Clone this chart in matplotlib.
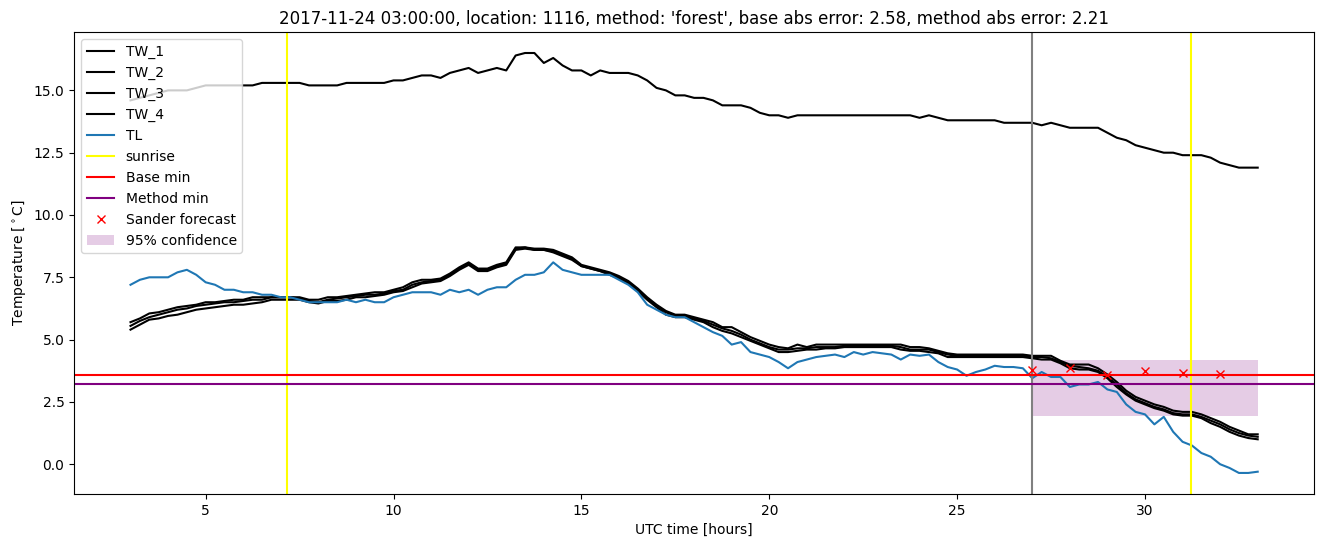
# Temperature forecast plot for one location

import numpy as np
import matplotlib
matplotlib.use('Agg')
import matplotlib.pyplot as plt

# ====> data (quarter hour steps, 3 to 33 UTC hours)
hours = np.arange(3, 33.25, 0.25)

tw_1 = [14.6, 14.7, 14.8, 14.9,
        15.0, 15.0, 15.0, 15.1,
        15.2, 15.2, 15.2, 15.2,
        15.2, 15.2, 15.3, 15.3,
        15.3, 15.3, 15.3, 15.2,
        15.2, 15.2, 15.2, 15.3,
        15.3, 15.3, 15.3, 15.3,
        15.4, 15.4, 15.5, 15.6,
        15.6, 15.5, 15.7, 15.8,
        15.9, 15.7, 15.8, 15.9,
        15.8, 16.4, 16.5, 16.5,
        16.1, 16.3, 16.0, 15.8,
        15.8, 15.6, 15.8, 15.7,
        15.7, 15.7, 15.6, 15.4,
        15.1, 15.0, 14.8, 14.8,
        14.7, 14.7, 14.6, 14.4,
        14.4, 14.4, 14.3, 14.1,
        14.0, 14.0, 13.9, 14.0,
        14.0, 14.0, 14.0, 14.0,
        14.0, 14.0, 14.0, 14.0,
        14.0, 14.0, 14.0, 14.0,
        13.9, 14.0, 13.9, 13.8,
        13.8, 13.8, 13.8, 13.8,
        13.8, 13.7, 13.7, 13.7,
        13.7, 13.6, 13.7, 13.6,
        13.5, 13.5, 13.5, 13.5,
        13.3, 13.1, 13.0, 12.8,
        12.7, 12.6, 12.5, 12.5,
        12.4, 12.4, 12.4, 12.3,
        12.1, 12.0, 11.9, 11.9,
        11.9]

tw_2 = [5.7, 5.85, 6.05, 6.1,
        6.2, 6.3, 6.35, 6.4,
        6.5, 6.5, 6.55, 6.6,
        6.6, 6.7, 6.7, 6.7,
        6.7, 6.7, 6.7, 6.6,
        6.6, 6.7, 6.7, 6.75,
        6.8, 6.85, 6.9, 6.9,
        7.0, 7.1, 7.3, 7.4,
        7.4, 7.45, 7.65, 7.9,
        8.1, 7.85, 7.85, 8.0,
        8.1, 8.7, 8.7, 8.65,
        8.65, 8.6, 8.45, 8.3,
        8.0, 7.9, 7.8, 7.7,
        7.55, 7.35, 7.05, 6.7,
        6.4, 6.15, 6.0, 6.0,
        5.9, 5.8, 5.7, 5.5,
        5.5, 5.3, 5.1, 4.95,
        4.8, 4.7, 4.65, 4.8,
        4.7, 4.8, 4.8, 4.8,
        4.8, 4.8, 4.8, 4.8,
        4.8, 4.8, 4.8, 4.7,
        4.7, 4.65, 4.55, 4.45,
        4.4, 4.4, 4.4, 4.4,
        4.4, 4.4, 4.4, 4.4,
        4.35, 4.35, 4.35, 4.15,
        4.0, 4.0, 4.0, 3.85,
        3.6, 3.3, 2.95, 2.7,
        2.55, 2.4, 2.3, 2.15,
        2.1, 2.1, 2.0, 1.85,
        1.7, 1.5, 1.35, 1.2,
        1.2]

tw_3 = [5.55, 5.75, 5.9, 6.0,
        6.1, 6.2, 6.25, 6.35,
        6.4, 6.45, 6.5, 6.5,
        6.55, 6.6, 6.6, 6.7,
        6.7, 6.7, 6.65, 6.55,
        6.5, 6.6, 6.65, 6.7,
        6.75, 6.8, 6.8, 6.85,
        6.95, 7.0, 7.2, 7.3,
        7.35, 7.4, 7.6, 7.85,
        8.05, 7.8, 7.8, 7.95,
        8.05, 8.65, 8.7, 8.6,
        8.6, 8.55, 8.4, 8.25,
        7.95, 7.85, 7.75, 7.65,
        7.5, 7.3, 7.0, 6.65,
        6.35, 6.1, 5.95, 5.95,
        5.85, 5.75, 5.6, 5.45,
        5.35, 5.2, 5.0, 4.85,
        4.7, 4.6, 4.6, 4.65,
        4.65, 4.7, 4.7, 4.7,
        4.75, 4.75, 4.75, 4.75,
        4.75, 4.75, 4.7, 4.6,
        4.6, 4.6, 4.5, 4.4,
        4.35, 4.35, 4.35, 4.35,
        4.35, 4.35, 4.35, 4.35,
        4.3, 4.3, 4.25, 4.1,
        3.95, 3.9, 3.85, 3.75,
        3.5, 3.2, 2.85, 2.6,
        2.45, 2.3, 2.2, 2.05,
        2.0, 2.0, 1.9, 1.75,
        1.6, 1.4, 1.25, 1.15,
        1.1]

tw_4 = [5.4, 5.6, 5.8, 5.85,
        5.95, 6.0, 6.1, 6.2,
        6.25, 6.3, 6.35, 6.4,
        6.4, 6.45, 6.5, 6.6,
        6.6, 6.6, 6.6, 6.5,
        6.45, 6.55, 6.55, 6.6,
        6.7, 6.7, 6.75, 6.8,
        6.9, 6.95, 7.1, 7.25,
        7.3, 7.35, 7.55, 7.8,
        8.0, 7.75, 7.75, 7.9,
        8.0, 8.6, 8.65, 8.6,
        8.6, 8.5, 8.35, 8.2,
        7.95, 7.85, 7.75, 7.6,
        7.45, 7.25, 6.95, 6.6,
        6.3, 6.0, 5.9, 5.9,
        5.8, 5.7, 5.5, 5.35,
        5.25, 5.1, 4.95, 4.8,
        4.65, 4.5, 4.5, 4.55,
        4.6, 4.6, 4.65, 4.65,
        4.7, 4.7, 4.7, 4.7,
        4.7, 4.7, 4.6, 4.55,
        4.55, 4.5, 4.45, 4.3,
        4.3, 4.3, 4.3, 4.3,
        4.3, 4.3, 4.3, 4.3,
        4.25, 4.2, 4.2, 4.05,
        3.85, 3.8, 3.8, 3.7,
        3.45, 3.1, 2.8, 2.55,
        2.4, 2.25, 2.15, 2.0,
        1.95, 1.95, 1.85, 1.65,
        1.5, 1.3, 1.15, 1.05,
        1.0]

tl = [7.2, 7.4, 7.5, 7.5,
      7.5, 7.7, 7.8, 7.6,
      7.3, 7.2, 7.0, 7.0,
      6.9, 6.9, 6.8, 6.8,
      6.7, 6.7, 6.6, 6.5,
      6.5, 6.5, 6.5, 6.6,
      6.5, 6.6, 6.5, 6.5,
      6.7, 6.8, 6.9, 6.9,
      6.9, 6.8, 7.0, 6.9,
      7.0, 6.8, 7.0, 7.1,
      7.1, 7.4, 7.6, 7.6,
      7.7, 8.1, 7.8, 7.7,
      7.6, 7.6, 7.6, 7.6,
      7.4, 7.2, 6.9, 6.4,
      6.2, 6.0, 5.9, 5.9,
      5.7, 5.5, 5.3, 5.15,
      4.8, 4.9, 4.5, 4.4,
      4.3, 4.1, 3.85, 4.1,
      4.2, 4.3, 4.35, 4.4,
      4.3, 4.5, 4.4, 4.5,
      4.45, 4.4, 4.2, 4.4,
      4.35, 4.4, 4.1, 3.9,
      3.8, 3.55, 3.7, 3.8,
      3.95, 3.9, 3.9, 3.85,
      3.45, 3.7, 3.5, 3.5,
      3.1, 3.2, 3.2, 3.3,
      3.0, 2.9, 2.4, 2.1,
      2.0, 1.6, 1.9, 1.3,
      0.9, 0.75, 0.45, 0.3,
      0.0, -0.15, -0.35, -0.35,
      -0.3]

sunrise_hours = [7.17, 31.22]
base_min = 3.57
method_min = 3.21
forecast_start = 27

forecast_hours = [27, 28, 29, 30, 31, 32]
forecast_temp = [3.8, 3.87, 3.57, 3.76, 3.67, 3.63]
conf_hours = [27, 33]
conf_low = [1.95, 1.95]
conf_high = [4.2, 4.2]

# ====> plot
fig, ax = plt.subplots(figsize=(13.24, 5.47), dpi=100)

ax.plot(hours, tw_1, color='black', label='TW_1')
ax.plot(hours, tw_2, color='black', label='TW_2')
ax.plot(hours, tw_3, color='black', label='TW_3')
ax.plot(hours, tw_4, color='black', label='TW_4')
ax.plot(hours, tl, color='C0', label='TL')

ax.axvline(sunrise_hours[0], color='yellow', label='sunrise')
ax.axvline(sunrise_hours[1], color='yellow')
ax.axvline(forecast_start, color='gray')
ax.axhline(base_min, color='red', label='Base min')
ax.axhline(method_min, color='purple', label='Method min')

ax.plot(forecast_hours, forecast_temp, 'x', color='red', label='Sander forecast')
ax.fill_between(conf_hours, conf_low, conf_high, color='purple', alpha=0.2,
                linewidth=0, label='95% confidence')

ax.set_xlabel('UTC time [hours]')
ax.set_ylabel(r'Temperature [$^\circ$C]')
ax.set_title("2017-11-24 03:00:00, location: 1116, method: 'forest', "
             "base abs error: 2.58, method abs error: 2.21")
ax.legend(loc='upper left')

plt.subplots_adjust(left=0.056, right=0.9925, top=0.9415, bottom=0.097)
plt.savefig('out.png')
